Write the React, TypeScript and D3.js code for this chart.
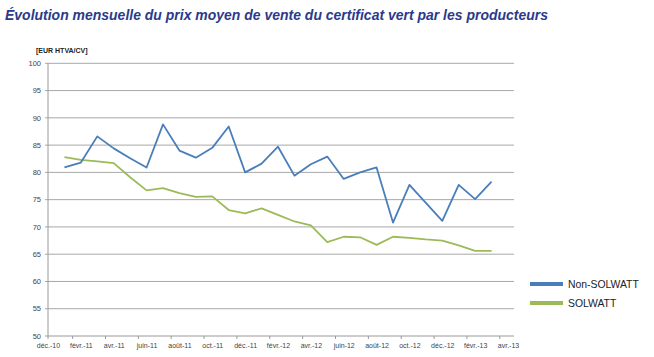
import React from "react";
import * as d3 from "d3";

const monthLabels = ["déc.-10","févr.-11","avr.-11","juin-11","août-11","oct.-11","déc.-11","févr.-12","avr.-12","juin-12","août-12","oct.-12","déc.-12","févr.-13","avr.-13"];
// month index 0 = déc.-10; data from janv.-11 (index 1) to mars-13 (index 27)
const nonSolwatt = [80.9,81.8,86.6,84.4,82.6,80.9,88.8,84.0,82.7,84.5,88.4,80.0,81.6,84.7,79.4,81.5,82.9,78.8,80.0,80.9,70.8,77.7,74.4,71.1,77.7,75.1,78.3];
const solwatt = [82.8,82.3,82.0,81.7,79.1,76.7,77.1,76.2,75.5,75.6,73.1,72.5,73.4,72.2,71.0,70.3,67.2,68.2,68.1,66.7,68.2,68.0,67.7,67.5,66.6,65.6,65.6];
const yTicks = [50,55,60,65,70,75,80,85,90,95,100];
const seriesNames = ["Non-SOLWATT","SOLWATT"];
const colors = ["#4a7ebb","#9bbb59"];

export default function App() {
  const W = 654, H = 357;
  const x = d3.scaleLinear().domain([0, 28]).range([48, 508]);
  const xRight = 514;
  const y = d3.scaleLinear().domain([50, 100]).range([336, 63.3]);
  const line = d3.line<number>().x((_, i) => x(i + 1)).y(d => y(d));
  const font = "Arial, 'Liberation Sans', sans-serif";
  return (
    <div style={{ position: "absolute", left: 0, top: 0 }}>
      <svg width={W} height={H} style={{ display: "block", background: "#fff" }}>
        <text x={5} y={20} fontFamily={font} fontSize={14} fontWeight="bold" fontStyle="italic" fill="#2b3a8a" textLength={543} lengthAdjust="spacingAndGlyphs">
          Évolution mensuelle du prix moyen de vente du certificat vert par les producteurs
        </text>
        <text x={36} y={53} fontFamily={font} fontSize={7} fontWeight="bold" fill="#222">[EUR HTVA/CV]</text>
        {yTicks.map(t => (
          <g key={t}>
            <line x1={t === 50 ? 45 : 45} x2={xRight} y1={y(t)} y2={y(t)} stroke={t === 50 ? "#9a9a9a" : "#a8a8a8"} strokeWidth={1} />
            <text x={41} y={y(t) + 2.7} textAnchor="end" fontFamily={font} fontSize={7.5} fill="#444">{t}</text>
          </g>
        ))}
        <line x1={48} x2={48} y1={y(100)} y2={y(50) + 3} stroke="#9a9a9a" strokeWidth={1} />
        {monthLabels.map((m, k) => (
          <g key={m}>
            {k > 0 && <line x1={x(k * 2 - 0.5)} x2={x(k * 2 - 0.5)} y1={y(50)} y2={y(50) + 3} stroke="#9a9a9a" />}
            <text x={x(k * 2) + 0.5} y={348} textAnchor="middle" fontFamily={font} fontSize={7} fill="#444">{m}</text>
          </g>
        ))}
        <path d={line(solwatt) || ""} fill="none" stroke={colors[1]} strokeWidth={1.8} strokeLinejoin="round" />
        <path d={line(nonSolwatt) || ""} fill="none" stroke={colors[0]} strokeWidth={1.8} strokeLinejoin="round" />
        {seriesNames.map((n, i) => (
          <g key={n}>
            <line x1={530} x2={563} y1={284 + i * 19} y2={284 + i * 19} stroke={colors[i]} strokeWidth={4} />
            <text x={568} y={287.5 + i * 19} fontFamily={font} fontSize={10.4} fill="#222">{n}</text>
          </g>
        ))}
      </svg>
    </div>
  );
}
